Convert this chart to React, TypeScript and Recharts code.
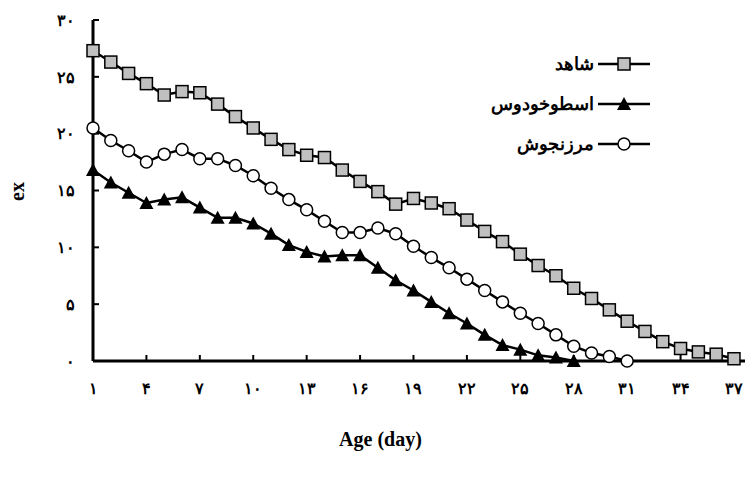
import { LineChart, Line, XAxis, YAxis } from "recharts";

const days = Array.from({ length: 37 }, (_, i) => i + 1);
const shahed = [27.3, 26.3, 25.3, 24.4, 23.4, 23.7, 23.6, 22.6, 21.5, 20.5, 19.5, 18.6, 18.1, 17.9, 16.8, 15.8, 14.9, 13.8, 14.3, 13.9, 13.4, 12.4, 11.4, 10.5, 9.4, 8.4, 7.5, 6.4, 5.5, 4.5, 3.5, 2.6, 1.7, 1.1, 0.8, 0.6, 0.2];
const marzanjoosh = [20.5, 19.4, 18.5, 17.5, 18.2, 18.6, 17.8, 17.8, 17.2, 16.3, 15.2, 14.2, 13.3, 12.3, 11.3, 11.3, 11.7, 11.2, 10.1, 9.1, 8.2, 7.2, 6.2, 5.2, 4.2, 3.3, 2.3, 1.3, 0.7, 0.4, 0];
const ostokhoddoos = [16.8, 15.7, 14.8, 13.9, 14.2, 14.4, 13.5, 12.6, 12.6, 12.1, 11.2, 10.2, 9.6, 9.2, 9.3, 9.3, 8.2, 7.1, 6.2, 5.2, 4.2, 3.3, 2.3, 1.4, 1.0, 0.5, 0.3, 0];
const xTicks = [1, 4, 7, 10, 13, 16, 19, 22, 25, 28, 31, 34, 37];
const yTicks = [0, 5, 10, 15, 20, 25, 30];

const fa = (n: number) => String(n).replace(/\d/g, (d) => "۰۱۲۳۴۵۶۷۸۹"[+d]);

const data = days.map((d, i) => ({
  day: d,
  shahed: shahed[i],
  marz: marzanjoosh[i],
  ost: ostokhoddoos[i],
}));

const font = "'Liberation Serif', 'DejaVu Serif', serif";

const ok = (p: any) => p.cx != null && p.cy != null && p.value != null && !Number.isNaN(p.cy);

const Square = (p: any) =>
  !ok(p) ? null : (
    <rect x={p.cx - 6} y={p.cy - 6} width={12} height={12} fill="#c0c0c0" stroke="#000" strokeWidth={1.5} />
  );
const Tri = (p: any) =>
  !ok(p) ? null : (
    <polygon points={`${p.cx},${p.cy - 7} ${p.cx - 7},${p.cy + 6} ${p.cx + 7},${p.cy + 6}`} fill="#000" />
  );
const Circ = (p: any) =>
  !ok(p) ? null : <circle cx={p.cx} cy={p.cy} r={6} fill="#fff" stroke="#000" strokeWidth={1.5} />;

const legend = [
  { name: "شاهد", marker: "sq" },
  { name: "اسطوخودوس", marker: "tri" },
  { name: "مرزنجوش", marker: "circ" },
];

export default function App() {
  return (
    <div style={{ position: "relative", width: 745, height: 469, fontFamily: font }}>
      <LineChart width={745} height={469} data={data} margin={{ top: 12, right: 3, left: 25, bottom: 86 }}>
        <XAxis
          dataKey="day"
          type="number"
          domain={[1, 37.9]}
          ticks={xTicks}
          tickFormatter={fa}
          axisLine={{ stroke: "#000", strokeWidth: 3 }}
          tickLine={{ stroke: "#000", strokeWidth: 2 }}
          tickSize={-6}
          tickMargin={28}
          height={30}
          tick={{ fill: "#000", fontSize: 16, fontWeight: "bold", fontFamily: font }}
        />
        <YAxis
          domain={[0, 30]}
          ticks={yTicks}
          tickFormatter={fa}
          axisLine={{ stroke: "#000", strokeWidth: 3 }}
          tickLine={{ stroke: "#000", strokeWidth: 2 }}
          tickSize={-6}
          tickMargin={24}
          width={60}
          tick={{ fill: "#000", fontSize: 16, fontWeight: "bold", fontFamily: font }}
        />
        <Line dataKey="shahed" stroke="#000" strokeWidth={2.5} dot={<Square />} isAnimationActive={false} />
        <Line dataKey="ost" stroke="#000" strokeWidth={2.5} dot={<Tri />} isAnimationActive={false} />
        <Line dataKey="marz" stroke="#000" strokeWidth={2.5} dot={<Circ />} isAnimationActive={false} />
      </LineChart>
      <div style={{ position: "absolute", left: 0, top: 420, width: 745, textAlign: "center", fontWeight: "bold", fontSize: 20 }}>
        Age (day)
      </div>
      <div style={{ position: "absolute", left: 0, top: 172, transform: "rotate(-90deg)", fontWeight: "bold", fontSize: 20 }}>
        ex
      </div>
      {legend.map((l, i) => (
        <div key={l.name} style={{ position: "absolute", right: 103, top: 45 + i * 40, display: "flex", alignItems: "center", gap: 4, fontWeight: "bold", fontSize: 18 }}>
          <span dir="rtl">{l.name}</span>
          <svg width={52} height={16}>
            <line x1={0} y1={8} x2={52} y2={8} stroke="#000" strokeWidth={2.5} />
            {l.marker === "sq" && <rect x={20} y={2} width={12} height={12} fill="#c0c0c0" stroke="#000" strokeWidth={1.5} />}
            {l.marker === "tri" && <polygon points="26,1 19,14 33,14" fill="#000" />}
            {l.marker === "circ" && <circle cx={26} cy={8} r={6} fill="#fff" stroke="#000" strokeWidth={1.5} />}
          </svg>
        </div>
      ))}
    </div>
  );
}
